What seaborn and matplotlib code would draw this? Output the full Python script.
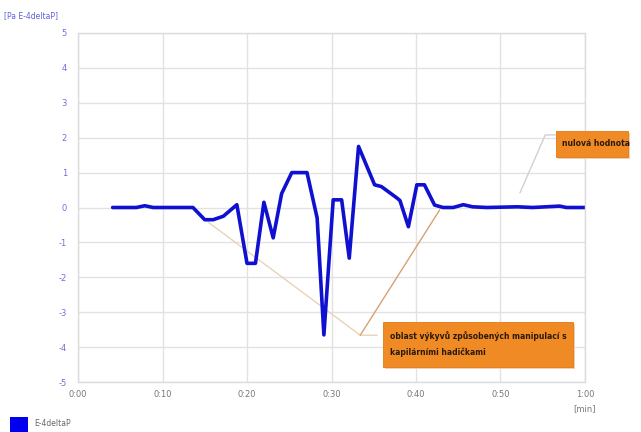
import matplotlib
matplotlib.use("Agg")
import matplotlib.pyplot as plt
import seaborn as sns
import pandas as pd
from matplotlib.patches import Rectangle

sns.set_theme(style="white")
plt.rcParams['font.family'] = ['DejaVu Sans']
plt.rcParams['axes.unicode_minus'] = False

# time in seconds, value in Pa E-4
time_s = [4.1, 6.9, 7.9, 8.9, 13.6, 14.2, 15.0, 16.0, 17.2, 18.8, 20.0, 21.0, 22.0, 23.1,
          24.1, 25.3, 27.1, 28.3, 29.1, 30.2, 31.2, 32.1, 33.2, 35.1, 35.9, 37.7, 38.1,
          39.1, 40.1, 41.0, 42.2, 43.2, 44.4, 45.6, 46.7, 48.4, 52.0, 53.8, 57.0, 57.8, 60.0]
values = [0.0, 0.0, 0.05, 0.0, 0.0, -0.15, -0.35, -0.35, -0.25, 0.08, -1.6, -1.6, 0.15, -0.87,
          0.4, 1.0, 1.0, -0.3, -3.65, 0.22, 0.22, -1.45, 1.75, 0.65, 0.6, 0.28, 0.2,
          -0.55, 0.65, 0.65, 0.07, 0.0, 0.0, 0.08, 0.02, 0.0, 0.02, 0.0, 0.04, 0.0, 0.0]
x_ticks = [0, 10, 20, 30, 40, 50, 60]
x_labels = ["0:00", "0:10", "0:20", "0:30", "0:40", "0:50", "1:00"]
y_ticks = [5, 4, 3, 2, 1, 0, -1, -2, -3, -4, -5]
series_name = "E-4deltaP"
y_title = "[Pa E-4deltaP]"
note_zero = "nulová hodnota"
note_region = "oblast výkyvů způsobených manipulací s\nkapilárními hadičkami"

df = pd.DataFrame({"t": time_s, "v": values})

W, H = 641, 432
fig = plt.figure(figsize=(W / 100, H / 100), dpi=100)
ax = fig.add_axes([78 / W, 1 - 382 / H, (585 - 78) / W, (382 - 33) / H])

sns.lineplot(data=df, x="t", y="v", ax=ax, color="#1010d0", linewidth=2.6, legend=False,
             solid_joinstyle="round", solid_capstyle="round")

ax.set_xlim(0, 60)
ax.set_ylim(-5, 5)
ax.set_xticks(x_ticks)
ax.set_xticklabels(x_labels)
ax.set_yticks(y_ticks)
ax.set_xlabel("")
ax.set_ylabel("")
ax.tick_params(axis="x", labelsize=6, colors="#888888", length=0, pad=6)
ax.tick_params(axis="y", labelsize=6, colors="#7070d8", length=0, pad=8)
for lbl in ax.get_xticklabels():
    lbl.set_color("#777777")
ax.grid(True, color="#e2e2e2", linewidth=1.0)
for s in ax.spines.values():
    s.set_color("#dcdcdc")
    s.set_linewidth(1.0)

# annotation lines (data coords)
ax.plot([15.4, 33.4, 35.4], [-0.42, -3.66, -3.66], color="#ead2b8", linewidth=1.0, zorder=1)
ax.plot([33.4, 42.8], [-3.66, -0.07], color="#d9a070", linewidth=1.0, zorder=1)
ax.plot([52.3, 55.3, 56.5], [0.42, 2.08, 2.08], color="#d0d0d0", linewidth=1.0, zorder=1)

# annotation boxes (figure pixel coords)
def box(x0, y0, x1, y1):
    fig.patches.append(Rectangle((x0 / W + 2 / W, 1 - (y1 + 2) / H), (x1 - x0) / W, (y1 - y0) / H,
                                 transform=fig.transFigure, facecolor="#f0d0b0", edgecolor="none", zorder=4))
    fig.patches.append(Rectangle((x0 / W, 1 - y1 / H), (x1 - x0) / W, (y1 - y0) / H,
                                 transform=fig.transFigure, facecolor="#f08a24", edgecolor="#e07a18",
                                 linewidth=0.6, zorder=5))

box(556, 131, 628, 157)
fig.text(562 / W, 1 - 144 / H, note_zero, fontsize=5.5, color="#2a1a0a", weight="bold",
         va="center", ha="left", zorder=6)
box(383, 322, 573, 367)
fig.text(390 / W, 1 - 344 / H, note_region, fontsize=5.5, color="#2a1a0a", weight="bold",
         va="center", ha="left", linespacing=1.9, zorder=6)

# titles
fig.text(4 / W, 1 - 16 / H, y_title, fontsize=5.5, color="#6060e0", va="center", ha="left")
fig.text(585 / W, 1 - 409 / H, "[min]", fontsize=6, color="#777777", va="center", ha="center")

# legend
fig.patches.append(Rectangle((10 / W, 1 - 432 / H), 18 / W, 15 / H, transform=fig.transFigure,
                             facecolor="#0000ee", edgecolor="none"))
fig.text(34 / W, 1 - 424 / H, series_name, fontsize=5.5, color="#666666", va="center", ha="left")

fig.savefig("out.png", dpi=100)
